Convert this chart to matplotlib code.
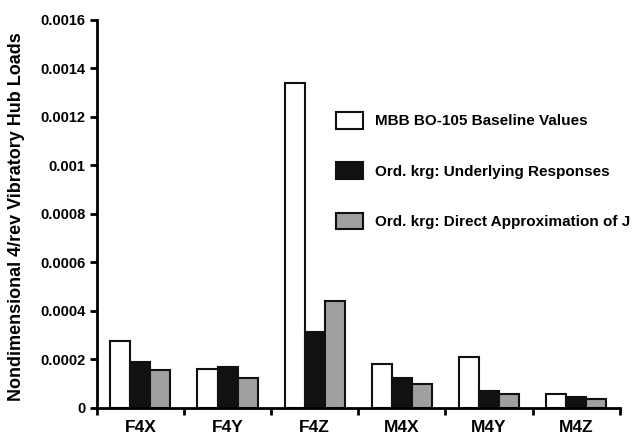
import matplotlib.pyplot as plt
import numpy as np
from matplotlib.ticker import FuncFormatter

plt.rcParams["font.family"] = ["Liberation Sans", "DejaVu Sans"]
plt.rcParams["font.weight"] = "bold"

categories = ["F4X", "F4Y", "F4Z", "M4X", "M4Y", "M4Z"]
baseline = [0.000275, 0.00016, 0.001342, 0.000181, 0.000209, 0.000058]
underlying = [0.00019, 0.000168, 0.000313, 0.000124, 0.000071, 0.000044]
direct = [0.000157, 0.000124, 0.000443, 0.000099, 0.000058, 0.000038]
series_labels = [
    "MBB BO-105 Baseline Values",
    "Ord. krg: Underlying Responses",
    "Ord. krg: Direct Approximation of J",
]

fig = plt.figure(figsize=(6.41, 4.34), dpi=100)
ax = fig.add_axes([0.151, 0.06, 0.816, 0.894])

x = np.arange(len(categories)) + 0.5
w = 0.23
colors = ["white", "#111111", "#a0a0a0"]
handles = []
for i, (vals, col, lab) in enumerate(zip([baseline, underlying, direct], colors, series_labels)):
    b = ax.bar(x + (i - 1) * w, vals, width=w, color=col, edgecolor="#111111",
               linewidth=1.5, label=lab)
    handles.append(b)

ax.set_xlim(0, len(categories))
ax.set_ylim(0, 0.0016)
ax.set_yticks(np.arange(0, 0.00161, 0.0002))
ax.yaxis.set_major_formatter(FuncFormatter(lambda v, p: "0" if v == 0 else f"{v:g}"))
ax.set_xticks(np.arange(0, len(categories) + 1))
ax.set_xticklabels([])
ax.set_xticks(x, minor=True)
ax.set_xticklabels(categories, minor=True)
ax.tick_params(axis="x", which="minor", length=0, pad=9, labelsize=12.5)
ax.tick_params(axis="x", which="major", length=5, width=2, direction="out")
ax.tick_params(axis="y", length=5, width=2, direction="out", labelsize=10.5, pad=3)

for s in ["top", "right"]:
    ax.spines[s].set_visible(False)
for s in ["left", "bottom"]:
    ax.spines[s].set_linewidth(2)

ax.set_ylabel("Nondimensional 4/rev Vibratory Hub Loads", fontsize=13, fontweight="bold")
ax.yaxis.set_label_coords(-0.138, 0.494)

leg = fig.legend(handles=handles, loc="upper left", bbox_to_anchor=(336 / 641, 1 - 112 / 434),
                 frameon=False, fontsize=11, handlelength=1.77, handleheight=1.31,
                 labelspacing=2.2, handletextpad=0.8, borderpad=0, borderaxespad=0)

fig.savefig("out.png", dpi=100)
